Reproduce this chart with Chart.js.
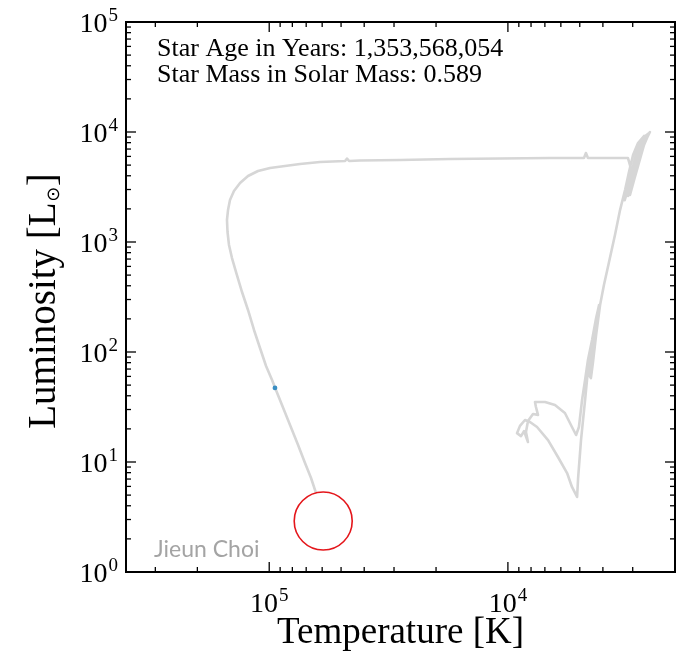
<!DOCTYPE html>
<html>
<head>
<meta charset="utf-8">
<title>HR diagram</title>
<script src="https://cdn.jsdelivr.net/npm/chart.js@4.4.0/dist/chart.umd.min.js"></script>
<style>
  html, body { margin: 0; padding: 0; background: #ffffff; }
  canvas { display: block; }
</style>
</head>
<body>
<canvas id="hr" width="685" height="657"></canvas>
<script>
// Evolutionary track, in time order: effective temperature (K)
const trackTemperature = [
  4270, 4440, 4620, 4750, 4940, 5080, 5130,
  5390, 5650, 6170, 6790, 7550, 8080, 8480,
  8900, 9160, 8810, 8560, 8240, 8400, 8240, 7850, 7480, 7630, 7700,
  6990, 6350, 5770, 5390, 5180, 5040, 4890,
  4750, 4620, 4440, 4270, 4150,
  4360, 4530, 4570, 4490, 4400, 4270, 4110,
  3960, 3770, 3560, 3390, 3230, 3110, 2990, 2850, 2690,
  2850, 3050, 3140, 3050, 2880, 2660, 2560, 2690, 2960, 3080, 2990, 2770, 2540,
  2800, 3100, 3240, 3150, 2900, 2700, 2800, 3020, 3080, 3140,
  3730, 4620, 4710, 4800, 6660, 10790, 17480, 28300, 41700, 46300, 47200, 48100,
  61300, 74300, 85900, 99200, 111400, 122700, 132500, 140500, 146000, 148800, 150300,
  149500, 147400, 143200, 137800, 130000, 122700, 115800, 109300, 103100, 97300, 93700,
  88400, 81800, 75700, 70800, 66800, 63700, 59400
];
// ... and luminosity (solar units)
const trackLuminosity = [
  187, 116, 68.6, 36.6, 15.8, 7.15, 4.81,
  5.93, 7.94, 11.1, 15.8, 20.8, 23.1, 24.1,
  21.3, 18.3, 17.2, 19.1, 15.2, 18.7, 23.6, 27.3, 26.8, 31.6, 35.1,
  35.1, 33.0, 27.9, 20.8, 17.6, 20.8, 36.6,
  55.7, 84.6, 128.5, 204, 267,
  143, 76.2, 61.8, 58.0, 81.1, 143, 267,
  407, 658, 1158, 1950, 2970, 4330, 6180, 7940, 9200,
  6860, 3660, 2620, 4070, 6860, 9200, 9790, 7620, 3660, 2680, 4510, 7620, 10000,
  6580, 3300, 2400, 3400, 6000, 8600, 6580, 3820, 5010, 5800,
  5800, 5800, 6440, 5800, 5800, 5740, 5680, 5570, 5510, 5450, 5740, 5450,
  5340, 5120, 4910, 4710, 4420, 3980, 3440, 2910, 2410, 1950, 1585,
  1233, 939, 715, 534, 351, 241, 158.5, 108.7, 74.6, 55.7, 45.1,
  33.0, 21.7, 14.3, 9.79, 7.15, 5.23, 2.91
];

// Present position of the star
const currentTemperature = [59400];
const currentLuminosity = [2.91];

// Highlighted point on the cooling track
const markedTemperature = [94600];
const markedLuminosity = [47.1];

// Axis ranges and labelled decades
const temperatureRange = [1995, 398107];
const luminosityRange = [1, 100000];
const temperatureMajorTicks = [10000, 100000];
const temperatureTickExponents = ['4', '5'];
const luminosityMajorTicks = [1, 10, 100, 1000, 10000, 100000];
const luminosityTickExponents = ['0', '1', '2', '3', '4', '5'];

const infoLines = ['Star Age in Years: 1,353,568,054', 'Star Mass in Solar Mass: 0.589'];
const signature = 'Jieun Choi';
const xTitle = 'Temperature [K]';
const yTitle = ['Luminosity [L', '\u2299', ']'];

const SERIF = '"Liberation Serif", "DejaVu Serif", serif';

function pairs(xs, ys) { return xs.map((v, i) => ({ x: v, y: ys[i] })); }

// minor ticks: 2..9 times each decade, kept inside the axis range
function minorTicks(range) {
  const out = [];
  for (let e = Math.floor(Math.log10(range[0])); e <= Math.ceil(Math.log10(range[1])); e++) {
    for (let m = 2; m <= 9; m++) {
      const v = m * Math.pow(10, e);
      if (v > range[0] && v < range[1]) out.push(v);
    }
  }
  return out;
}

function drawPower(ctx, base, exp, x, y, align) {
  const bigFont = '28px ' + SERIF, smallFont = '19px ' + SERIF;
  ctx.font = bigFont;
  const wb = ctx.measureText(base).width;
  ctx.font = smallFont;
  const we = ctx.measureText(exp).width;
  const total = wb + we + 1;
  let x0 = align === 'right' ? x - total : x - total / 2;
  ctx.textAlign = 'left';
  ctx.textBaseline = 'alphabetic';
  ctx.font = bigFont;
  ctx.fillText(base, x0, y);
  ctx.font = smallFont;
  ctx.fillText(exp, x0 + wb + 1, y - 11);
}

const framePlugin = {
  id: 'framePlugin',
  afterDraw(chart) {
    const { ctx, chartArea: a } = chart;
    const xs = chart.scales.x, ys = chart.scales.y;
    ctx.save();
    ctx.strokeStyle = '#000';
    ctx.fillStyle = '#000';

    const seg = (x1, y1, x2, y2) => { ctx.beginPath(); ctx.moveTo(x1, y1); ctx.lineTo(x2, y2); ctx.stroke(); };

    // inward tick marks on all four sides
    ctx.lineWidth = 1.3;
    const xTick = (v, len) => {
      const p = xs.getPixelForValue(v);
      seg(p, a.bottom, p, a.bottom - len);
      seg(p, a.top, p, a.top + len);
    };
    const yTick = (v, len) => {
      const p = ys.getPixelForValue(v);
      seg(a.left, p, a.left + len, p);
      seg(a.right, p, a.right - len, p);
    };
    minorTicks(temperatureRange).forEach(v => xTick(v, 5));
    temperatureMajorTicks.forEach(v => xTick(v, 10));
    minorTicks(luminosityRange).forEach(v => yTick(v, 5));
    luminosityMajorTicks.forEach(v => yTick(v, 10));

    // frame
    ctx.lineWidth = 2;
    ctx.strokeRect(a.left, a.top, a.right - a.left, a.bottom - a.top);

    // tick labels
    luminosityMajorTicks.forEach((v, i) => {
      drawPower(ctx, '10', luminosityTickExponents[i], a.left - 8, ys.getPixelForValue(v) + 10, 'right');
    });
    temperatureMajorTicks.forEach((v, i) => {
      drawPower(ctx, '10', temperatureTickExponents[i], xs.getPixelForValue(v), a.bottom + 40, 'center');
    });

    // axis titles
    ctx.font = '37px ' + SERIF;
    ctx.textAlign = 'center';
    ctx.textBaseline = 'alphabetic';
    ctx.fillText(xTitle, (a.left + a.right) / 2, 643);

    ctx.save();
    ctx.translate(55, (a.top + a.bottom) / 2 + 4);
    ctx.rotate(-Math.PI / 2);
    ctx.textAlign = 'left';
    ctx.font = '39px ' + SERIF;
    const w0 = ctx.measureText(yTitle[0]).width;
    const w2 = ctx.measureText(yTitle[2]).width;
    ctx.font = '18px "DejaVu Sans", ' + SERIF;
    const w1 = ctx.measureText(yTitle[1]).width;
    const total = w0 + w1 + w2 + 1;
    let x0 = -total / 2;
    ctx.font = '39px ' + SERIF;
    ctx.fillText(yTitle[0], x0, 0);
    ctx.font = '18px "DejaVu Sans", ' + SERIF;
    ctx.fillText(yTitle[1], x0 + w0 + 0.5, 4);
    ctx.font = '39px ' + SERIF;
    ctx.fillText(yTitle[2], x0 + w0 + w1 + 1, 0);
    ctx.restore();

    // star information
    ctx.font = '26px ' + SERIF;
    ctx.textAlign = 'left';
    ctx.fillStyle = '#000';
    ctx.fillText(infoLines[0], a.left + 31, 56);
    ctx.fillText(infoLines[1], a.left + 31, 82);

    // signature
    ctx.font = '23px Lato, "Open Sans", sans-serif';
    ctx.fillStyle = '#a4a4a4';
    ctx.fillText(signature, a.left + 28, 557);

    ctx.restore();
  }
};

new Chart(document.getElementById('hr'), {
  type: 'scatter',
  data: {
    datasets: [
      {
        label: 'current',
        data: pairs(currentTemperature, currentLuminosity),
        pointRadius: 29,
        pointHoverRadius: 29,
        pointBorderWidth: 1.6,
        pointBorderColor: '#e4161b',
        pointBackgroundColor: '#ffffff',
        order: 0
      },
      {
        label: 'marked',
        data: pairs(markedTemperature, markedLuminosity),
        pointRadius: 2.4,
        pointBorderWidth: 0,
        pointBackgroundColor: '#3a8ec2',
        order: 1
      },
      {
        label: 'track',
        data: pairs(trackTemperature, trackLuminosity),
        showLine: true,
        borderColor: '#d6d6d6',
        borderWidth: 2.6,
        pointRadius: 0,
        tension: 0,
        borderJoinStyle: 'round',
        borderCapStyle: 'round',
        order: 2
      }
    ]
  },
  options: {
    responsive: false,
    animation: false,
    devicePixelRatio: 1,
    layout: { autoPadding: false, padding: { left: 126, top: 22, right: 10, bottom: 85 } },
    plugins: { legend: { display: false }, tooltip: { enabled: false } },
    events: [],
    scales: {
      x: {
        type: 'logarithmic',
        reverse: true,
        min: temperatureRange[0],
        max: temperatureRange[1],
        display: false
      },
      y: {
        type: 'logarithmic',
        min: luminosityRange[0],
        max: luminosityRange[1],
        display: false
      }
    }
  },
  plugins: [framePlugin]
});
</script>
</body>
</html>
